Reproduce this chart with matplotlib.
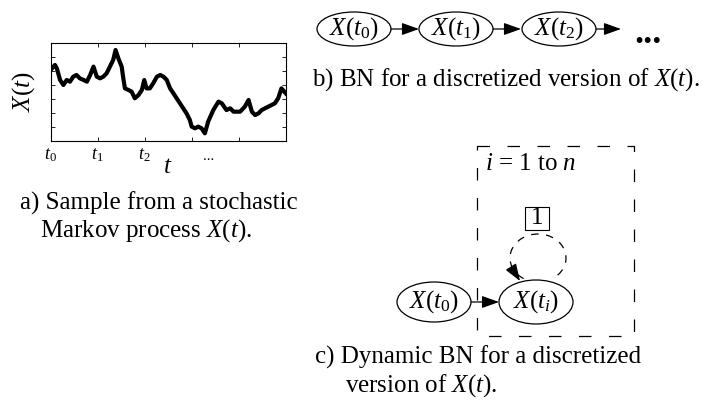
import matplotlib
matplotlib.use("Agg")
import matplotlib.pyplot as plt
from matplotlib.patches import Ellipse, Arc, Rectangle, FancyArrowPatch

plt.rcParams["font.family"] = ["Liberation Serif", "DejaVu Serif"]
plt.rcParams["mathtext.fontset"] = "custom"
plt.rcParams["mathtext.rm"] = "Liberation Serif"
plt.rcParams["mathtext.it"] = "Liberation Serif:italic"

# sample path (t in tick units 0..5, X on a 0..7 scale)
t_vals = [0.00, 0.09, 0.13, 0.20, 0.27, 0.34, 0.41, 0.48, 0.55, 0.62, 0.70, 0.77,
          0.84, 0.91, 0.98, 1.05, 1.12, 1.19, 1.26, 1.33, 1.38, 1.44, 1.51, 1.55,
          1.58, 1.65, 1.72, 1.79, 1.87, 1.94, 1.99, 2.04, 2.11, 2.18, 2.26, 2.33,
          2.40, 2.47, 2.54, 2.61, 2.68, 2.75, 2.82, 2.89, 2.96, 3.00, 3.07, 3.14,
          3.21, 3.28, 3.35, 3.46, 3.57, 3.64, 3.74, 3.82, 3.89, 3.96, 4.03, 4.13,
          4.21, 4.28, 4.35, 4.42, 4.49, 4.56, 4.63, 4.70, 4.77, 4.84, 4.91, 5.00]
x_vals = [5.09, 5.45, 5.21, 4.37, 4.01, 4.37, 4.25, 4.61, 4.73, 4.49, 4.37, 4.25,
          4.73, 5.33, 4.61, 4.49, 4.61, 4.85, 5.33, 5.81, 6.52, 5.92, 5.33, 4.37,
          3.77, 3.66, 3.54, 3.06, 3.30, 3.66, 4.37, 3.77, 3.77, 4.13, 4.61, 4.73,
          4.61, 4.37, 3.77, 3.42, 3.06, 2.70, 2.34, 1.98, 1.51, 1.03, 0.91, 1.03,
          0.91, 0.55, 1.39, 2.22, 2.82, 2.70, 2.22, 2.34, 2.10, 2.10, 2.10, 2.46,
          2.94, 2.10, 1.86, 1.98, 2.22, 2.34, 2.46, 2.58, 2.70, 3.06, 3.77, 3.42]
tick_labels = [r"$t_\mathit{0}$", r"$t_\mathit{1}$", r"$t_\mathit{2}$", "", "", ""]

# node labels of the two networks
chain_nodes = [r"$X(t_\mathit{0})$", r"$X(t_\mathit{1})$", r"$X(t_\mathit{2})$"]
dbn_nodes = [r"$X(t_\mathit{0})$", r"$X(t_\mathit{i})$"]

fig = plt.figure(figsize=(7.14, 4.03), dpi=100)

# overlay in pixel coordinates for the diagrams and captions
ov = fig.add_axes([0, 0, 1, 1])
ov.set_xlim(0, 714)
ov.set_ylim(403, 0)
ov.axis("off")

# a) sample path
ax = fig.add_axes([50.7 / 714, 1 - 141 / 403, 235 / 714, 97.7 / 403])
ax.plot(t_vals, x_vals, color="black", lw=3)
ax.set_xlim(0, 5)
ax.set_ylim(0, 7)
ax.set_xticks(range(6))
ax.set_xticklabels(tick_labels, fontsize=13)
ax.set_yticks(range(1, 7))
ax.set_yticklabels([])
ax.tick_params(direction="in", length=3, width=0.6, top=True, right=True, pad=4)
for s in ax.spines.values():
    s.set_linewidth(0.8)
ax.text(3.35, -1.1, "...", ha="center", va="center", fontsize=11)
ax.set_xlabel(r"$t$", fontsize=18, labelpad=-6)
ax.set_ylabel(r"$X(t)$", fontsize=18, labelpad=6)

ov.text(20, 203, "a) Sample from a stochastic", fontsize=18, va="center")
ov.text(40, 231, r"Markov process $X$($t$).", fontsize=18, va="center")


def node(cx, cy, label, w=74, h=36):
    ov.add_patch(Ellipse((cx, cy), w, h, fill=False, lw=0.9, ec="black"))
    ov.text(cx, cy, label, ha="center", va="center", fontsize=18)


def arrow(p0, p1):
    ov.add_patch(FancyArrowPatch(p0, p1, arrowstyle="-|>,head_length=0.7,head_width=0.25",
                                 mutation_scale=15, lw=0.9, color="black",
                                 shrinkA=0, shrinkB=0))


# b) chain BN
chain_x = [354, 456, 559]
for cx, lab in zip(chain_x, chain_nodes):
    node(cx, 29, lab, w=74, h=34)
for cx in chain_x:
    length = 28 if cx != chain_x[-1] else 25
    arrow((cx + 37, 29), (cx + 37 + length, 29))
ov.text(648, 43, "...", fontsize=26, fontweight="bold", ha="center", va="baseline")
ov.text(312, 80, r"b) BN for a discretized version of $X$($t$).", fontsize=18,
        va="center")

# c) dynamic BN with plate
ov.add_patch(Rectangle((477, 146), 157, 190, fill=False, lw=0.9, ec="black",
                       linestyle=(0, (10, 14))))
ov.text(485, 164, r"$i$ = 1 to $n$", fontsize=18, va="center")
node(434, 302, dbn_nodes[0], h=40)
node(536, 302, dbn_nodes[1], h=44)
arrow((471, 302), (499, 302))
ov.add_patch(Arc((538, 258), 56, 48, theta1=125, theta2=58, lw=0.9, color="black",
                 linestyle=(0, (6, 6))))
arrow((513, 270), (520, 281))
ov.add_patch(Rectangle((525, 207), 24, 23, fill=False, lw=0.8, ec="black"))
ov.text(537, 218.5, "1", fontsize=18, ha="center", va="center")
ov.text(315, 357, "c) Dynamic BN for a discretized", fontsize=18, va="center")
ov.text(345, 386, r"version of $X$($t$).", fontsize=18, va="center")

fig.savefig("out.png", dpi=100)
